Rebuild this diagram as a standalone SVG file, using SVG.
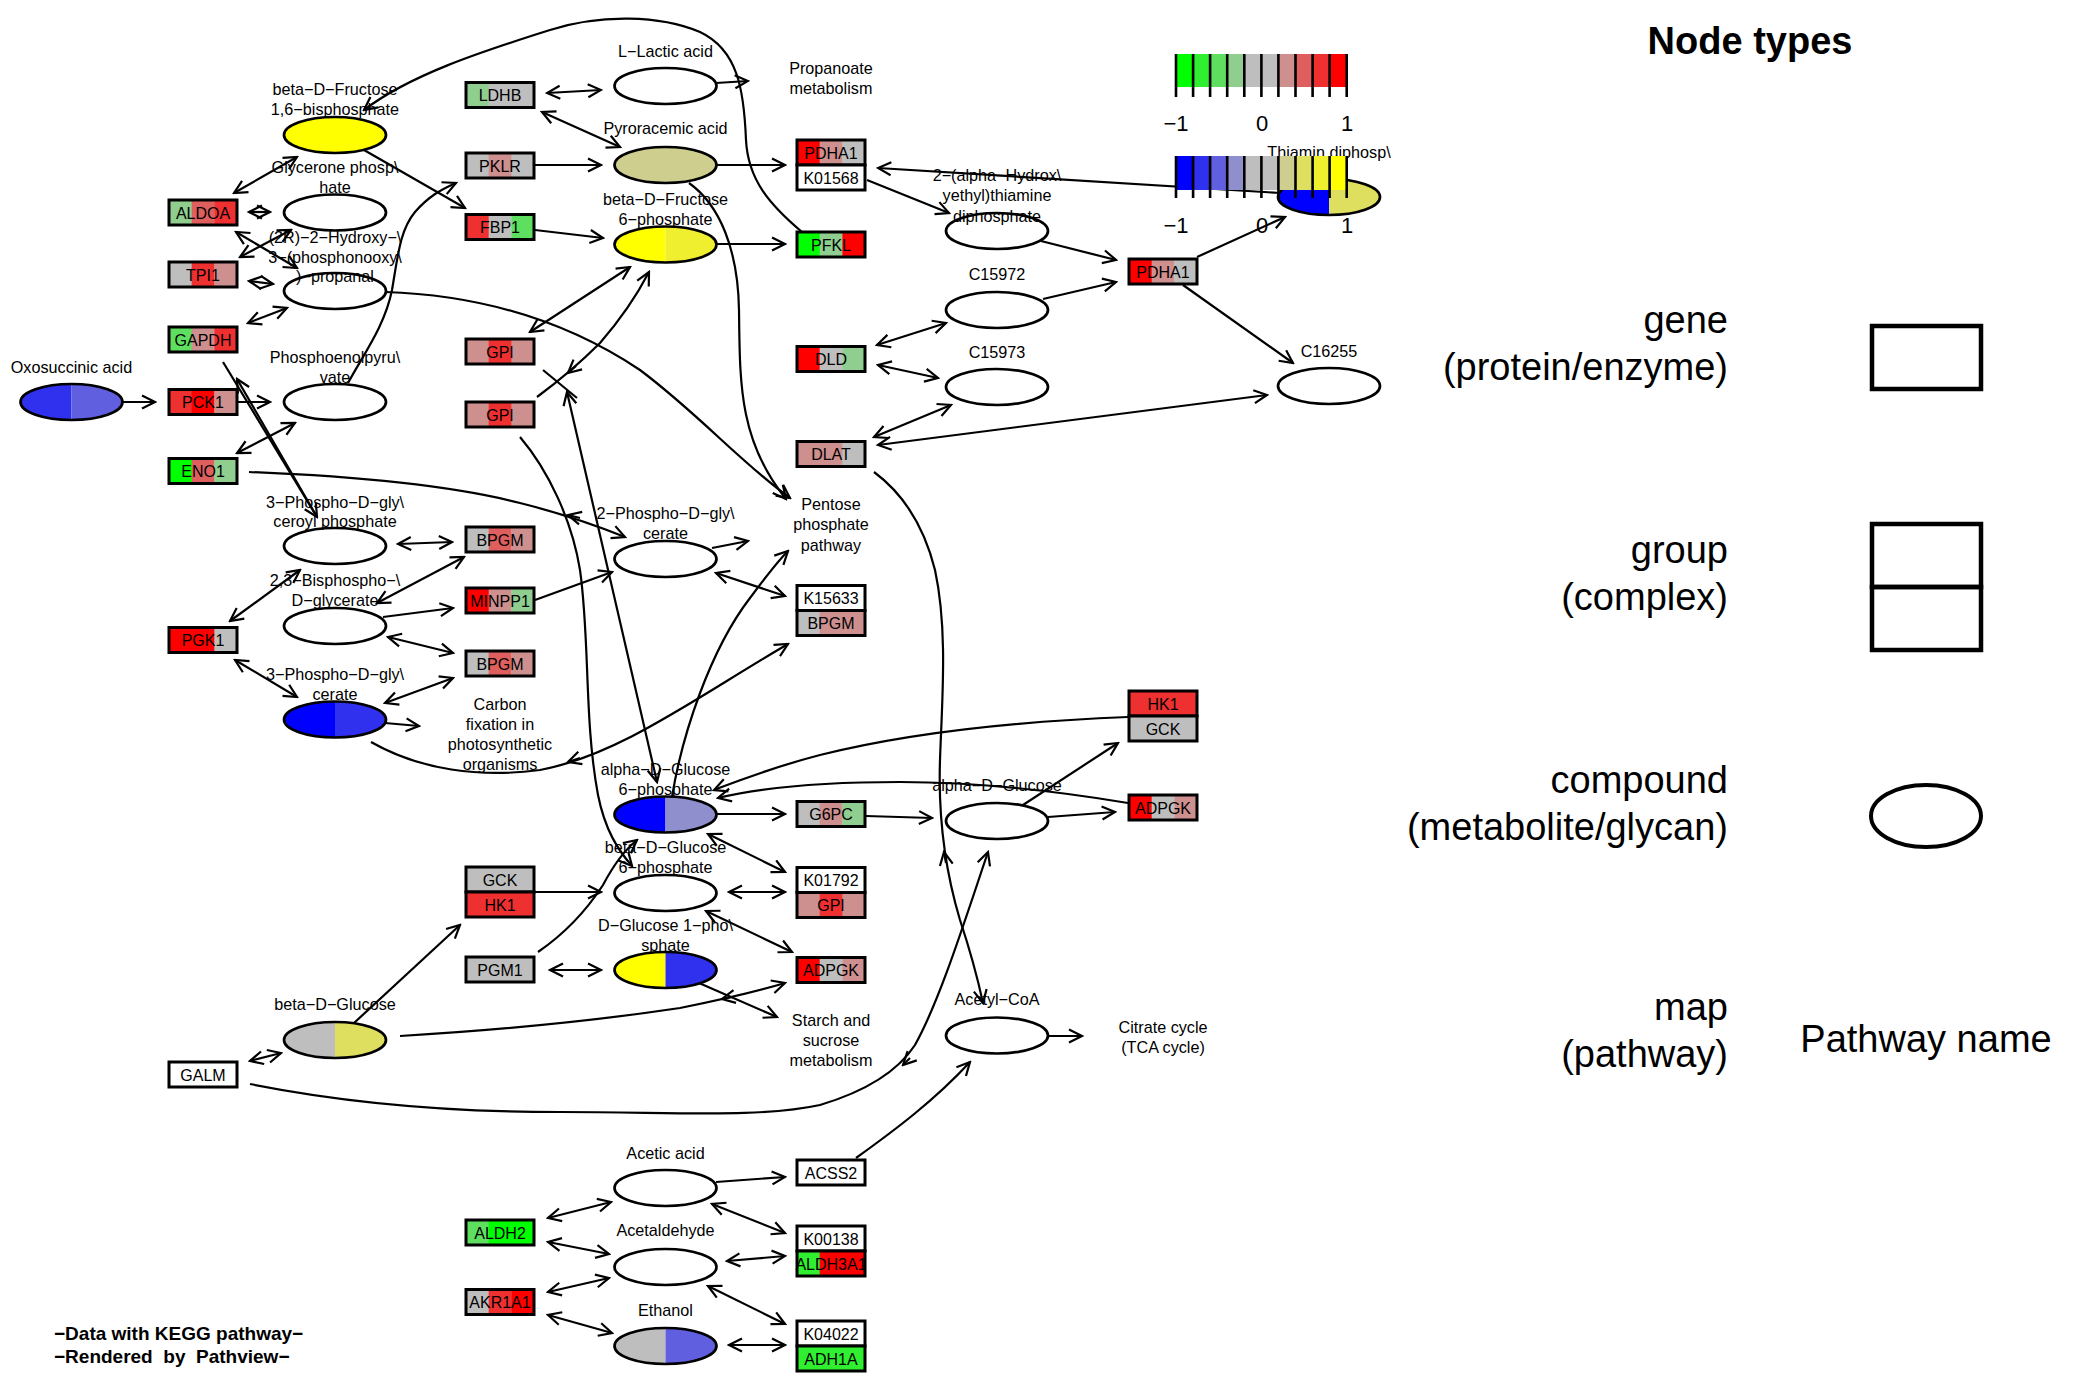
<svg xmlns="http://www.w3.org/2000/svg" width="2100" height="1400" viewBox="0 0 2100 1400">
<defs>
<style>
.ln{fill:none;stroke:#000;stroke-width:2.2}
.da{marker-start:url(#ah);marker-end:url(#ah)}
.ea{marker-end:url(#ah)}
.box{fill:none;stroke:#000;stroke-width:3}
.cpd{fill:none;stroke:#000;stroke-width:2.7}
.wc{fill:#fff;stroke:#000;stroke-width:2.7}
text{font-family:"Liberation Sans",Arial,Helvetica,sans-serif;fill:#000}
.gl{font-size:16px;text-anchor:middle}
.cl{font-size:16.2px;text-anchor:middle}
.lg{font-size:38px;text-anchor:end}
.tk{font-size:22px;text-anchor:middle}
.tl{stroke:#000;stroke-width:2.6}
</style>
<marker id="ah" viewBox="-15 -8 17 16" markerWidth="17" markerHeight="16" refX="0" refY="0" orient="auto-start-reverse" markerUnits="userSpaceOnUse">
<path d="M-13,-6.5 L0,0 L-13,6.5" fill="none" stroke="#000" stroke-width="2.2"/>
</marker>
</defs>
<rect x="0" y="0" width="2100" height="1400" fill="#fff"/>

<g id="connectors">
<path class="ln ea" d="M802,232 C770,205 748,180 746,140 C744,90 738,50 700,32 C660,15 600,14 550,30 C480,52 410,75 364,110"/>
<path class="ln da" d="M234,193 L297,157"/>
<path class="ln ea" d="M364,150 L465,208"/>
<path class="ln da" d="M249,212 L270,212"/>
<path class="ln da" d="M236,232 L297,268"/>
<path class="ln da" d="M240,257 L291,230"/>
<path class="ln da" d="M249,281 L273,284"/>
<path class="ln da" d="M248,323 L287,308"/>
<path class="ln ea" d="M348,383 C365,352 385,325 392,290 C398,255 400,230 415,212 C428,197 440,190 456,183"/>
<path class="ln ea" d="M385,292 C480,295 565,320 640,370 C700,415 740,462 790,498"/>
<path class="ln ea" d="M689,183 C720,205 738,250 739,310 C740,380 738,440 786,499"/>
<path class="ln ea" d="M237,402 L270,402"/>
<path class="ln ea" d="M122,402 L155,402"/>
<path class="ln ea" d="M223,362 L317,517"/>
<path class="ln ea" d="M317,517 L237,379"/>
<path class="ln da" d="M295,423 L237,453"/>
<path class="ln ea" d="M249,472 C350,476 450,485 520,503 C560,513 595,525 625,537"/>
<path class="ln ea" d="M580,518 L568,515"/>
<path class="ln da" d="M398,544 L452,542"/>
<path class="ln da" d="M230,621 L300,570"/>
<path class="ln da" d="M377,603 L464,557"/>
<path class="ln ea" d="M383,617 L453,608"/>
<path class="ln da" d="M388,637 L453,653"/>
<path class="ln da" d="M235,660 L297,697"/>
<path class="ln da" d="M385,703 L453,678"/>
<path class="ln ea" d="M385,723 L419,726"/>
<path class="ln ea" d="M371,742 C420,770 480,778 540,770 C620,755 700,695 788,644"/>
<path class="ln ea" d="M580,758 L568,762"/>
<path class="ln ea" d="M535,600 L612,572"/>
<path class="ln ea" d="M712,548 L748,541"/>
<path class="ln da" d="M716,573 L785,596"/>
<path class="ln ea" d="M672,797 C682,735 710,650 750,598 C765,578 776,563 788,551"/>
<path class="ln da" d="M530,332 L630,267"/>
<path class="ln ea" d="M537,397 C560,380 585,358 600,343 C620,320 637,295 649,272"/>
<path class="ln ea" d="M576,366 L568,373"/>
<path class="ln" d="M543,370 L577,398"/>
<path class="ln da" d="M567,392 L657,782"/>
<path class="ln ea" d="M520,437 C548,470 572,520 580,570 C590,640 584,720 598,795 C605,830 618,850 632,866"/>
<path class="ln ea" d="M538,952 C570,930 590,905 603,885 C612,868 622,852 637,840"/>
<path class="ln ea" d="M535,892 L601,892"/>
<path class="ln ea" d="M354,1023 L460,925"/>
<path class="ln da" d="M250,1061 L281,1053"/>
<path class="ln ea" d="M400,1036 C500,1030 600,1020 680,1008 C720,1000 755,992 785,983"/>
<path class="ln ea" d="M732,997 L722,999"/>
<path class="ln ea" d="M250,1084 C330,1100 430,1112 560,1112 C680,1112 760,1118 820,1105 C870,1090 900,1068 915,1045 C940,1000 965,920 988,852"/>
<path class="ln ea" d="M910,1058 L903,1065"/>
<path class="ln ea" d="M874,472 C905,495 925,530 935,570 C948,630 942,700 940,760 C938,820 945,870 960,920 C970,950 978,980 983,1003"/>
<path class="ln ea" d="M946,863 L944,852"/>
<path class="ln ea" d="M716,814 L785,814"/>
<path class="ln ea" d="M866,816 L932,818"/>
<path class="ln da" d="M708,834 L785,872"/>
<path class="ln da" d="M729,892 L785,892"/>
<path class="ln da" d="M706,911 L792,952"/>
<path class="ln da" d="M550,970 L601,970"/>
<path class="ln ea" d="M699,983 L777,1017"/>
<path class="ln ea" d="M1023,805 L1118,743"/>
<path class="ln ea" d="M1048,817 L1115,812"/>
<path class="ln ea" d="M1128,717 C1000,722 900,735 820,755 C770,768 740,780 714,790"/>
<path class="ln ea" d="M1128,803 C1050,790 970,782 900,782 C820,782 760,788 718,798"/>
<path class="ln ea" d="M1048,1036 L1082,1036"/>
<path class="ln ea" d="M856,1158 C895,1130 935,1100 970,1062"/>
<path class="ln ea" d="M716,1182 L785,1177"/>
<path class="ln da" d="M548,1218 L611,1202"/>
<path class="ln da" d="M548,1242 L609,1254"/>
<path class="ln da" d="M548,1292 L609,1278"/>
<path class="ln da" d="M548,1315 L612,1333"/>
<path class="ln da" d="M712,1204 L785,1233"/>
<path class="ln da" d="M727,1261 L785,1256"/>
<path class="ln da" d="M708,1286 L785,1324"/>
<path class="ln da" d="M729,1345 L785,1345"/>
<path class="ln da" d="M547,93 L601,90"/>
<path class="ln da" d="M542,112 L620,147"/>
<path class="ln ea" d="M716,83 L748,81"/>
<path class="ln ea" d="M535,165 L601,165"/>
<path class="ln ea" d="M716,165 L785,165"/>
<path class="ln ea" d="M535,230 L603,238"/>
<path class="ln ea" d="M716,244 L785,244"/>
<path class="ln ea" d="M867,180 L949,213"/>
<path class="ln ea" d="M1280,193 L878,168"/>
<path class="ln ea" d="M1041,241 L1116,260"/>
<path class="ln ea" d="M1043,299 L1116,282"/>
<path class="ln da" d="M877,345 L946,323"/>
<path class="ln da" d="M878,365 L938,378"/>
<path class="ln da" d="M874,437 L951,405"/>
<path class="ln da" d="M878,445 L1267,395"/>
<path class="ln ea" d="M1197,257 L1285,217"/>
<path class="ln ea" d="M1183,285 L1293,363"/>
</g>

<!-- column A genes -->
<g id="g-ALDOA"><rect x="169" y="200" width="23" height="25" fill="#8FCE8F"/><rect x="191.67" y="200" width="23" height="25" fill="#DF5F5F"/><rect x="214.33" y="200" width="22.67" height="25" fill="#EF3030"/><rect class="box" x="169" y="200" width="68" height="25"/><text class="gl" x="203" y="218.5">ALDOA</text></g>
<g id="g-TPI1"><rect x="169" y="262" width="23" height="25" fill="#BEBEBE"/><rect x="191.67" y="262" width="23" height="25" fill="#EF3030"/><rect x="214.33" y="262" width="22.67" height="25" fill="#CE8F8F"/><rect class="box" x="169" y="262" width="68" height="25"/><text class="gl" x="203" y="280.5">TPI1</text></g>
<g id="g-GAPDH"><rect x="169" y="327" width="23" height="25" fill="#5FDF5F"/><rect x="191.67" y="327" width="23" height="25" fill="#CE8F8F"/><rect x="214.33" y="327" width="22.67" height="25" fill="#EF3030"/><rect class="box" x="169" y="327" width="68" height="25"/><text class="gl" x="203" y="345.5">GAPDH</text></g>
<g id="g-PCK1"><rect x="169" y="389.5" width="23" height="25" fill="#EF3030"/><rect x="191.67" y="389.5" width="23" height="25" fill="#FF0000"/><rect x="214.33" y="389.5" width="22.67" height="25" fill="#CE8F8F"/><rect class="box" x="169" y="389.5" width="68" height="25"/><text class="gl" x="203" y="408">PCK1</text></g>
<g id="g-ENO1"><rect x="169" y="458.5" width="23" height="25" fill="#00FF00"/><rect x="191.67" y="458.5" width="23" height="25" fill="#DF5F5F"/><rect x="214.33" y="458.5" width="22.67" height="25" fill="#8FCE8F"/><rect class="box" x="169" y="458.5" width="68" height="25"/><text class="gl" x="203" y="477">ENO1</text></g>
<g id="g-PGK1"><rect x="169" y="627.5" width="46" height="25" fill="#FF0000"/><rect x="214.33" y="627.5" width="22.67" height="25" fill="#BEBEBE"/><rect class="box" x="169" y="627.5" width="68" height="25"/><text class="gl" x="203" y="646">PGK1</text></g>
<g id="g-GALM"><rect x="169" y="1062" width="68" height="25" fill="#fff"/><rect class="box" x="169" y="1062" width="68" height="25"/><text class="gl" x="203" y="1080.5">GALM</text></g>

<!-- column C genes -->
<g id="g-LDHB"><rect x="466" y="82.5" width="23" height="25" fill="#8FCE8F"/><rect x="488.67" y="82.5" width="45.33" height="25" fill="#BEBEBE"/><rect class="box" x="466" y="82.5" width="68" height="25"/><text class="gl" x="500" y="101">LDHB</text></g>
<g id="g-PKLR"><rect x="466" y="153" width="68" height="25" fill="#BEBEBE"/><rect x="488.67" y="153" width="22.67" height="25" fill="#CE8F8F"/><rect class="box" x="466" y="153" width="68" height="25"/><text class="gl" x="500" y="171.5">PKLR</text></g>
<g id="g-FBP1"><rect x="466" y="214.5" width="23" height="25" fill="#EF3030"/><rect x="488.67" y="214.5" width="23" height="25" fill="#BEBEBE"/><rect x="511.33" y="214.5" width="22.67" height="25" fill="#5FDF5F"/><rect class="box" x="466" y="214.5" width="68" height="25"/><text class="gl" x="500" y="233">FBP1</text></g>
<g id="g-GPI-1"><rect x="466" y="339" width="68" height="25" fill="#CE8F8F"/><rect x="488.67" y="339" width="22.67" height="25" fill="#EF3030"/><rect class="box" x="466" y="339" width="68" height="25"/><text class="gl" x="500" y="357.5">GPI</text></g>
<g id="g-GPI-2"><rect x="466" y="402" width="68" height="25" fill="#CE8F8F"/><rect x="488.67" y="402" width="22.67" height="25" fill="#EF3030"/><rect class="box" x="466" y="402" width="68" height="25"/><text class="gl" x="500" y="420.5">GPI</text></g>
<g id="g-BPGM-1"><rect x="466" y="527" width="23" height="25" fill="#BEBEBE"/><rect x="488.67" y="527" width="23" height="25" fill="#DF5F5F"/><rect x="511.33" y="527" width="22.67" height="25" fill="#CE8F8F"/><rect class="box" x="466" y="527" width="68" height="25"/><text class="gl" x="500" y="545.5">BPGM</text></g>
<g id="g-MINPP1"><rect x="466" y="588" width="23" height="25" fill="#FF0000"/><rect x="488.67" y="588" width="23" height="25" fill="#CE8F8F"/><rect x="511.33" y="588" width="22.67" height="25" fill="#8FCE8F"/><rect class="box" x="466" y="588" width="68" height="25"/><text class="gl" x="500" y="606.5">MINPP1</text></g>
<g id="g-BPGM-2"><rect x="466" y="651" width="23" height="25" fill="#BEBEBE"/><rect x="488.67" y="651" width="23" height="25" fill="#DF5F5F"/><rect x="511.33" y="651" width="22.67" height="25" fill="#CE8F8F"/><rect class="box" x="466" y="651" width="68" height="25"/><text class="gl" x="500" y="669.5">BPGM</text></g>
<g id="g-GCK-HK1-a"><rect x="466" y="867" width="68" height="25" fill="#BEBEBE"/><rect class="box" x="466" y="867" width="68" height="25"/><text class="gl" x="500" y="885.5">GCK</text><rect x="466" y="892" width="68" height="25" fill="#EF3030"/><rect class="box" x="466" y="892" width="68" height="25"/><text class="gl" x="500" y="910.5">HK1</text></g>
<g id="g-PGM1"><rect x="466" y="957" width="68" height="25" fill="#BEBEBE"/><rect class="box" x="466" y="957" width="68" height="25"/><text class="gl" x="500" y="975.5">PGM1</text></g>
<g id="g-ALDH2"><rect x="466" y="1220" width="23" height="25" fill="#5FDF5F"/><rect x="488.67" y="1220" width="45.33" height="25" fill="#00FF00"/><rect class="box" x="466" y="1220" width="68" height="25"/><text class="gl" x="500" y="1238.5">ALDH2</text></g>
<g id="g-AKR1A1"><rect x="466" y="1289.5" width="23" height="25" fill="#BEBEBE"/><rect x="488.67" y="1289.5" width="23" height="25" fill="#EF3030"/><rect x="511.33" y="1289.5" width="22.67" height="25" fill="#FF0000"/><rect class="box" x="466" y="1289.5" width="68" height="25"/><text class="gl" x="500" y="1308">AKR1A1</text></g>

<!-- column E genes -->
<g id="g-PDHA1-K01568"><rect x="797" y="140" width="23" height="25" fill="#FF0000"/><rect x="819.67" y="140" width="23" height="25" fill="#CE8F8F"/><rect x="842.33" y="140" width="22.67" height="25" fill="#BEBEBE"/><rect class="box" x="797" y="140" width="68" height="25"/><text class="gl" x="831" y="158.5">PDHA1</text><rect x="797" y="165" width="68" height="25" fill="#fff"/><rect class="box" x="797" y="165" width="68" height="25"/><text class="gl" x="831" y="183.5">K01568</text></g>
<g id="g-PFKL"><rect x="797" y="232" width="23" height="25" fill="#00FF00"/><rect x="819.67" y="232" width="23" height="25" fill="#8FCE8F"/><rect x="842.33" y="232" width="22.67" height="25" fill="#FF0000"/><rect class="box" x="797" y="232" width="68" height="25"/><text class="gl" x="831" y="250.5">PFKL</text></g>
<g id="g-DLD"><rect x="797" y="346.5" width="23" height="25" fill="#FF0000"/><rect x="819.67" y="346.5" width="23" height="25" fill="#BEBEBE"/><rect x="842.33" y="346.5" width="22.67" height="25" fill="#8FCE8F"/><rect class="box" x="797" y="346.5" width="68" height="25"/><text class="gl" x="831" y="365">DLD</text></g>
<g id="g-DLAT"><rect x="797" y="441.5" width="46" height="25" fill="#CE8F8F"/><rect x="842.33" y="441.5" width="22.67" height="25" fill="#BEBEBE"/><rect class="box" x="797" y="441.5" width="68" height="25"/><text class="gl" x="831" y="460">DLAT</text></g>
<g id="g-K15633-BPGM"><rect x="797" y="585.5" width="68" height="25" fill="#fff"/><rect class="box" x="797" y="585.5" width="68" height="25"/><text class="gl" x="831" y="604">K15633</text><rect x="797" y="610.5" width="23" height="25" fill="#BEBEBE"/><rect x="819.67" y="610.5" width="45.33" height="25" fill="#CE8F8F"/><rect class="box" x="797" y="610.5" width="68" height="25"/><text class="gl" x="831" y="629">BPGM</text></g>
<g id="g-G6PC"><rect x="797" y="801.5" width="23" height="25" fill="#BEBEBE"/><rect x="819.67" y="801.5" width="23" height="25" fill="#CE8F8F"/><rect x="842.33" y="801.5" width="22.67" height="25" fill="#8FCE8F"/><rect class="box" x="797" y="801.5" width="68" height="25"/><text class="gl" x="831" y="820">G6PC</text></g>
<g id="g-K01792-GPI"><rect x="797" y="867.5" width="68" height="25" fill="#fff"/><rect class="box" x="797" y="867.5" width="68" height="25"/><text class="gl" x="831" y="886">K01792</text><rect x="797" y="892.5" width="68" height="25" fill="#CE8F8F"/><rect x="819.67" y="892.5" width="22.67" height="25" fill="#EF3030"/><rect class="box" x="797" y="892.5" width="68" height="25"/><text class="gl" x="831" y="911">GPI</text></g>
<g id="g-ADPGK-1"><rect x="797" y="957.5" width="23" height="25" fill="#FF0000"/><rect x="819.67" y="957.5" width="23" height="25" fill="#BEBEBE"/><rect x="842.33" y="957.5" width="22.67" height="25" fill="#CE8F8F"/><rect class="box" x="797" y="957.5" width="68" height="25"/><text class="gl" x="831" y="976">ADPGK</text></g>
<g id="g-ACSS2"><rect x="797" y="1160" width="68" height="25" fill="#fff"/><rect class="box" x="797" y="1160" width="68" height="25"/><text class="gl" x="831" y="1178.5">ACSS2</text></g>
<g id="g-K00138-ALDH3A1"><rect x="797" y="1226" width="68" height="25" fill="#fff"/><rect class="box" x="797" y="1226" width="68" height="25"/><text class="gl" x="831" y="1244.5">K00138</text><rect x="797" y="1251" width="23" height="25" fill="#30EF30"/><rect x="819.67" y="1251" width="45.33" height="25" fill="#FF0000"/><rect class="box" x="797" y="1251" width="68" height="25"/><text class="gl" x="831" y="1269.5">ALDH3A1</text></g>
<g id="g-K04022-ADH1A"><rect x="797" y="1321" width="68" height="25" fill="#fff"/><rect class="box" x="797" y="1321" width="68" height="25"/><text class="gl" x="831" y="1339.5">K04022</text><rect x="797" y="1346" width="68" height="25" fill="#30EF30"/><rect class="box" x="797" y="1346" width="68" height="25"/><text class="gl" x="831" y="1364.5">ADH1A</text></g>

<!-- column G genes -->
<g id="g-PDHA1-2"><rect x="1129" y="259" width="23" height="25" fill="#FF0000"/><rect x="1151.67" y="259" width="23" height="25" fill="#CE8F8F"/><rect x="1174.33" y="259" width="22.67" height="25" fill="#BEBEBE"/><rect class="box" x="1129" y="259" width="68" height="25"/><text class="gl" x="1163" y="277.5">PDHA1</text></g>
<g id="g-HK1-GCK-b"><rect x="1129" y="691" width="68" height="25" fill="#EF3030"/><rect class="box" x="1129" y="691" width="68" height="25"/><text class="gl" x="1163" y="709.5">HK1</text><rect x="1129" y="716" width="68" height="25" fill="#BEBEBE"/><rect class="box" x="1129" y="716" width="68" height="25"/><text class="gl" x="1163" y="734.5">GCK</text></g>
<g id="g-ADPGK-2"><rect x="1129" y="795" width="23" height="25" fill="#FF0000"/><rect x="1151.67" y="795" width="23" height="25" fill="#BEBEBE"/><rect x="1174.33" y="795" width="22.67" height="25" fill="#CE8F8F"/><rect class="box" x="1129" y="795" width="68" height="25"/><text class="gl" x="1163" y="813.5">ADPGK</text></g>

<!-- compounds column B -->
<g id="c-F16BP"><ellipse cx="335" cy="135" rx="51" ry="18" style="fill:#FFFF00;stroke:#000;stroke-width:2.7"/><text class="cl" x="335" y="94.5">beta−D−Fructose</text><text class="cl" x="335" y="114.5">1,6−bisphosphate</text></g>
<g id="c-DHAP"><ellipse class="wc" cx="335" cy="212.5" rx="51" ry="18"/><text class="cl" x="335" y="172.5">Glycerone phosp\</text><text class="cl" x="335" y="192.5">hate</text></g>
<g id="c-GAP"><ellipse class="wc" cx="335" cy="291" rx="51" ry="18"/><text class="cl" x="335" y="242.5">(2R)−2−Hydroxy−\</text><text class="cl" x="335" y="262.5">3−(phosphonooxy\</text><text class="cl" x="335" y="281.5">)−propanal</text></g>
<g id="c-PEP"><ellipse class="wc" cx="335" cy="402" rx="51" ry="18"/><text class="cl" x="335" y="362.5">Phosphoenolpyru\</text><text class="cl" x="335" y="382.5">vate</text></g>
<g id="c-OAA"><path d="M71.5,384 A51,18 0 0 0 71.5,420 Z" fill="#3030EF"/><path d="M71.5,384 A51,18 0 0 1 71.5,420 Z" fill="#5F5FDF"/><ellipse class="cpd" cx="71.5" cy="402" rx="51" ry="18"/><text class="cl" x="71.5" y="372.5">Oxosuccinic acid</text></g>
<g id="c-13BPG"><ellipse class="wc" cx="335" cy="546" rx="51" ry="18"/><text class="cl" x="335" y="507.5">3−Phospho−D−gly\</text><text class="cl" x="335" y="527">ceroyl phosphate</text></g>
<g id="c-23BPG"><ellipse class="wc" cx="335" cy="626" rx="51" ry="18"/><text class="cl" x="335" y="585.5">2,3−Bisphospho−\</text><text class="cl" x="335" y="605.5">D−glycerate</text></g>
<g id="c-3PG"><path d="M335,701.5 A51,18 0 0 0 335,737.5 Z" fill="#0000FF"/><path d="M335,701.5 A51,18 0 0 1 335,737.5 Z" fill="#3030EF"/><ellipse class="cpd" cx="335" cy="719.5" rx="51" ry="18"/><text class="cl" x="335" y="679.5">3−Phospho−D−gly\</text><text class="cl" x="335" y="699.5">cerate</text></g>
<g id="c-bGlc"><path d="M335,1022 A51,18 0 0 0 335,1058 Z" fill="#BEBEBE"/><path d="M335,1022 A51,18 0 0 1 335,1058 Z" fill="#DFDF5F"/><ellipse class="cpd" cx="335" cy="1040" rx="51" ry="18"/><text class="cl" x="335" y="1010">beta−D−Glucose</text></g>

<!-- compounds column D -->
<g id="c-Lac"><ellipse class="wc" cx="665.5" cy="86" rx="51" ry="18"/><text class="cl" x="665.5" y="56.5">L−Lactic acid</text></g>
<g id="c-Pyr"><ellipse cx="665.5" cy="165" rx="51" ry="18" style="fill:#CECE8F;stroke:#000;stroke-width:2.7"/><text class="cl" x="665.5" y="133.5">Pyroracemic acid</text></g>
<g id="c-F6P"><path d="M665.5,226.5 A51,18 0 0 0 665.5,262.5 Z" fill="#FFFF00"/><path d="M665.5,226.5 A51,18 0 0 1 665.5,262.5 Z" fill="#EFEF30"/><ellipse class="cpd" cx="665.5" cy="244.5" rx="51" ry="18"/><text class="cl" x="665.5" y="204.5">beta−D−Fructose</text><text class="cl" x="665.5" y="224.5">6−phosphate</text></g>
<g id="c-2PG"><ellipse class="wc" cx="665.5" cy="559" rx="51" ry="18"/><text class="cl" x="665.5" y="518.5">2−Phospho−D−gly\</text><text class="cl" x="665.5" y="538.5">cerate</text></g>
<g id="c-aG6P"><path d="M665.5,796.5 A51,18 0 0 0 665.5,832.5 Z" fill="#0000FF"/><path d="M665.5,796.5 A51,18 0 0 1 665.5,832.5 Z" fill="#8F8FCE"/><ellipse class="cpd" cx="665.5" cy="814.5" rx="51" ry="18"/><text class="cl" x="665.5" y="774.5">alpha−D−Glucose</text><text class="cl" x="665.5" y="794.5">6−phosphate</text></g>
<g id="c-bG6P"><ellipse class="wc" cx="665.5" cy="893" rx="51" ry="18"/><text class="cl" x="665.5" y="852.5">beta−D−Glucose</text><text class="cl" x="665.5" y="872.5">6−phosphate</text></g>
<g id="c-G1P"><path d="M665.5,952 A51,18 0 0 0 665.5,988 Z" fill="#FFFF00"/><path d="M665.5,952 A51,18 0 0 1 665.5,988 Z" fill="#3030EF"/><ellipse class="cpd" cx="665.5" cy="970" rx="51" ry="18"/><text class="cl" x="665.5" y="930.5">D−Glucose 1−pho\</text><text class="cl" x="665.5" y="950.5">sphate</text></g>
<g id="c-Ace"><ellipse class="wc" cx="665.5" cy="1188" rx="51" ry="18"/><text class="cl" x="665.5" y="1158.5">Acetic acid</text></g>
<g id="c-Ald"><ellipse class="wc" cx="665.5" cy="1267" rx="51" ry="18"/><text class="cl" x="665.5" y="1235.5">Acetaldehyde</text></g>
<g id="c-EtOH"><path d="M665.5,1328 A51,18 0 0 0 665.5,1364 Z" fill="#BEBEBE"/><path d="M665.5,1328 A51,18 0 0 1 665.5,1364 Z" fill="#5F5FDF"/><ellipse class="cpd" cx="665.5" cy="1346" rx="51" ry="18"/><text class="cl" x="665.5" y="1315.5">Ethanol</text></g>

<!-- compounds column F/H -->
<g id="c-HETPP"><ellipse class="wc" cx="997" cy="231" rx="51" ry="18"/><text class="cl" x="997" y="180.5">2−(alpha−Hydrox\</text><text class="cl" x="997" y="201">yethyl)thiamine</text><text class="cl" x="997" y="221.5">diphosphate</text></g>
<g id="c-C15972"><ellipse class="wc" cx="997" cy="310" rx="51" ry="18"/><text class="cl" x="997" y="279.5">C15972</text></g>
<g id="c-C15973"><ellipse class="wc" cx="997" cy="387" rx="51" ry="18"/><text class="cl" x="997" y="357.5">C15973</text></g>
<g id="c-aGlc"><ellipse class="wc" cx="997" cy="821" rx="51" ry="18"/><text class="cl" x="997" y="790.5">alpha−D−Glucose</text></g>
<g id="c-AcCoA"><ellipse class="wc" cx="997" cy="1035.5" rx="51" ry="18"/><text class="cl" x="997" y="1004.5">Acetyl−CoA</text></g>
<g id="c-TPP"><path d="M1329,179 A51,18 0 0 0 1329,215 Z" fill="#0000FF"/><path d="M1329,179 A51,18 0 0 1 1329,215 Z" fill="#DFDF5F"/><ellipse class="cpd" cx="1329" cy="197" rx="51" ry="18"/><text class="cl" x="1329" y="157.5">Thiamin diphosp\</text></g>
<g id="c-C16255"><ellipse class="wc" cx="1329" cy="386" rx="51" ry="18"/><text class="cl" x="1329" y="356.5">C16255</text></g>

<!-- maps -->
<g id="m-propanoate"><text class="cl" x="831" y="73.5">Propanoate</text><text class="cl" x="831" y="93.5">metabolism</text></g>
<g id="m-pentose"><text class="cl" x="831" y="509.5">Pentose</text><text class="cl" x="831" y="530">phosphate</text><text class="cl" x="831" y="550.5">pathway</text></g>
<g id="m-carbon"><text class="cl" x="500" y="709.5">Carbon</text><text class="cl" x="500" y="729.5">fixation in</text><text class="cl" x="500" y="749.5">photosynthetic</text><text class="cl" x="500" y="769.5">organisms</text></g>
<g id="m-starch"><text class="cl" x="831" y="1025.5">Starch and</text><text class="cl" x="831" y="1045.5">sucrose</text><text class="cl" x="831" y="1065.5">metabolism</text></g>
<g id="m-tca"><text class="cl" x="1163" y="1032.5">Citrate cycle</text><text class="cl" x="1163" y="1052.5">(TCA cycle)</text></g>

<!-- color legends -->
<g id="legend-gene-colors">
<rect x="1176" y="54" width="17.5" height="33" fill="#00FF00"/>
<rect x="1193.1" y="54" width="17.5" height="33" fill="#30EF30"/>
<rect x="1210.1" y="54" width="17.5" height="33" fill="#5FDF5F"/>
<rect x="1227.2" y="54" width="17.5" height="33" fill="#8FCE8F"/>
<rect x="1244.3" y="54" width="34.6" height="33" fill="#BEBEBE"/>
<rect x="1278.4" y="54" width="17.5" height="33" fill="#CE8F8F"/>
<rect x="1295.5" y="54" width="17.5" height="33" fill="#DF5F5F"/>
<rect x="1312.6" y="54" width="17.5" height="33" fill="#EF3030"/>
<rect x="1329.6" y="54" width="17.4" height="33" fill="#FF0000"/>
<path class="tl" d="M1176,54V97M1193.1,54V97M1210.1,54V97M1227.2,54V97M1244.3,54V97M1261.4,54V97M1278.4,54V97M1295.5,54V97M1312.6,54V97M1329.6,54V97M1346.7,54V97"/>
<text class="tk" x="1176" y="131">−1</text><text class="tk" x="1262" y="131">0</text><text class="tk" x="1347" y="131">1</text>
</g>
<g id="legend-cpd-colors">
<rect x="1176" y="156" width="17.5" height="34" fill="#0000FF"/>
<rect x="1193.1" y="156" width="17.5" height="34" fill="#3030EF"/>
<rect x="1210.1" y="156" width="17.5" height="34" fill="#5F5FDF"/>
<rect x="1227.2" y="156" width="17.5" height="34" fill="#8F8FCE"/>
<rect x="1244.3" y="156" width="34.6" height="34" fill="#BEBEBE"/>
<rect x="1278.4" y="156" width="17.5" height="34" fill="#CECE8F"/>
<rect x="1295.5" y="156" width="17.5" height="34" fill="#DFDF5F"/>
<rect x="1312.6" y="156" width="17.5" height="34" fill="#EFEF30"/>
<rect x="1329.6" y="156" width="17.4" height="34" fill="#FFFF00"/>
<path class="tl" d="M1176,156V198M1193.1,156V198M1210.1,156V198M1227.2,156V198M1244.3,156V198M1261.4,156V198M1278.4,156V198M1295.5,156V198M1312.6,156V198M1329.6,156V198M1346.7,156V198"/>
<text class="tk" x="1176" y="233">−1</text><text class="tk" x="1262" y="233">0</text><text class="tk" x="1347" y="233">1</text>
</g>

<!-- node type legend -->
<g id="legend-node-types">
<text x="1750" y="54" font-size="38" font-weight="bold" text-anchor="middle">Node types</text>
<text class="lg" x="1728" y="333">gene</text><text class="lg" x="1728" y="380">(protein/enzyme)</text>
<rect x="1872" y="326" width="109" height="63" fill="none" stroke="#000" stroke-width="4.5"/>
<text class="lg" x="1728" y="563">group</text><text class="lg" x="1728" y="610">(complex)</text>
<rect x="1872" y="524" width="109" height="63" fill="none" stroke="#000" stroke-width="4.5"/>
<rect x="1872" y="587" width="109" height="63" fill="none" stroke="#000" stroke-width="4.5"/>
<text class="lg" x="1728" y="793">compound</text><text class="lg" x="1728" y="840">(metabolite/glycan)</text>
<ellipse cx="1926" cy="816" rx="55" ry="31" fill="none" stroke="#000" stroke-width="4"/>
<text class="lg" x="1728" y="1020">map</text><text class="lg" x="1728" y="1067">(pathway)</text>
<text x="1926" y="1052" font-size="38" text-anchor="middle">Pathway name</text>
</g>

<g id="footer">
<text x="54" y="1340" font-size="19" font-weight="bold">−Data with KEGG pathway−</text>
<text x="54" y="1363" font-size="19" font-weight="bold" xml:space="preserve">−Rendered  by  Pathview−</text>
</g>
</svg>
